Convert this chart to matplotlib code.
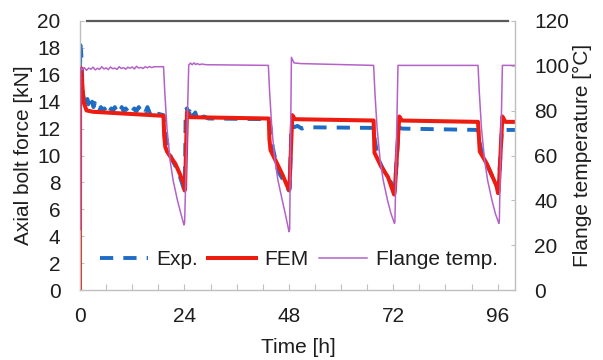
import matplotlib
matplotlib.use('Agg')
import matplotlib.pyplot as plt

plt.rcParams['font.family'] = ['Liberation Sans', 'DejaVu Sans']

# ---------------- data ----------------
exp_t = [0.0, 0.1, 0.25, 0.4, 0.55, 0.7, 0.9, 1.1, 1.3, 1.5, 1.7, 1.9, 2.1, 2.3, 2.5, 2.8, 3.1, 3.4, 3.7,
         4.0, 4.4, 4.8, 5.2, 5.6, 6.0, 6.4, 6.8, 7.2, 7.6, 8.0, 8.4, 8.8, 9.2, 9.6, 10.0, 10.5, 11.0, 11.5,
         12.0, 12.5, 13.0, 13.5, 14.0, 14.5, 15.0, 15.5, 16.0, 16.5, 17.0, 18.0, 19.2,
         19.5, 19.8, 20.4, 21.0, 21.8, 22.6, 23.3, 23.9, 24.1, 24.3, 24.6, 24.9, 25.2, 25.5, 25.8, 26.1,
         26.5, 26.9, 27.3, 27.8, 28.5, 29.5, 43.4,
         43.8, 44.3, 45.0, 45.6, 46.5, 47.3, 48.0, 48.2, 48.6, 49.2, 50.0, 51.0, 52.0, 67.5,
         67.8, 68.5, 69.5, 70.5, 71.5, 72.2, 72.4, 73.3, 74.0, 91.5,
         91.9, 92.4, 93.2, 94.0, 95.0, 96.0, 96.2, 97.0, 98.0, 100.0]
exp_v = [16.4, 18.2, 17.8, 16.8, 15.2, 14.6, 14.2, 14.0, 14.4, 13.9, 14.2, 13.8, 14.1, 14.3, 13.8, 14.0, 13.6, 13.9, 13.5,
         13.6, 13.3, 13.6, 13.4, 13.5, 13.3, 13.6, 13.3, 13.5, 13.3, 13.6, 13.3, 13.5, 13.3, 13.6, 13.3, 13.5, 13.3, 13.6,
         13.3, 13.5, 13.3, 13.6, 13.3, 13.5, 13.2, 13.6, 13.2, 13.4, 13.1, 13.1, 13.0,
         12.0, 11.3, 10.4, 9.8, 9.3, 8.8, 8.1, 7.5, 7.6, 13.4, 13.5, 13.0, 13.3, 12.9, 13.2, 12.9,
         13.2, 12.8, 13.1, 12.8, 12.9, 12.75, 12.7,
         12.1, 10.6, 9.6, 8.8, 8.3, 7.9, 7.4, 7.5, 12.3, 12.1, 12.2, 12.0, 12.1, 12.05,
         11.1, 9.8, 9.1, 8.5, 8.0, 7.5, 7.6, 12.1, 12.0, 11.9,
         10.9, 10.2, 9.5, 9.0, 8.3, 7.5, 7.5, 12.0, 11.9, 11.9]

fem_t = [0.0, 0.02, 0.3, 0.8, 1.5, 3.0, 19.2, 19.35, 19.6, 20.0, 20.8, 21.9, 23.0, 23.85, 24.05, 24.15, 24.6, 25.2,
         43.4, 43.55, 43.8, 45.0, 46.5, 48.0, 48.15, 48.8, 49.4,
         67.5, 67.7, 69.2, 70.8, 72.2, 72.35, 73.4, 74.0,
         91.5, 91.9, 93.5, 95.8, 96.1, 96.25, 97.1, 97.8, 100.0]
fem_v = [0.0, 16.6, 16.4, 14.0, 13.35, 13.25, 12.95, 11.5, 10.65, 10.3, 9.9, 9.4, 8.6, 7.9, 7.4, 7.6, 13.25, 12.85,
         12.75, 11.2, 10.4, 9.6, 8.6, 7.45, 7.6, 13.0, 12.7,
         12.6, 10.2, 9.2, 8.4, 7.1, 7.3, 12.9, 12.6,
         12.5, 10.3, 9.4, 7.7, 7.2, 7.4, 12.9, 12.5, 12.5]

temp_t = [0.0, 0.05, 0.5, 1.0, 1.5, 2.0, 2.5, 3.0, 3.5, 4.0, 4.5, 5.0, 5.5, 6.0, 6.5, 7.0, 7.5, 8.0, 8.5, 9.0,
          9.5, 10.0, 10.5, 11.0, 11.5, 12.0, 12.5, 13.0, 13.5, 14.0, 14.5, 15.0, 15.5, 16.0, 16.5, 17.0, 18.0, 19.2,
          19.5, 20.0, 20.7, 21.4, 22.4, 23.2, 23.9, 24.05, 25.0, 25.4, 25.8, 26.2, 26.6, 27.0, 27.5, 28.0, 29.0, 43.3,
          43.6, 44.1, 44.8, 45.5, 46.5, 47.3, 48.05, 48.2, 48.6, 49.2, 50.8, 67.5,
          67.8, 68.3, 69.0, 69.7, 70.7, 71.5, 72.3, 72.4, 73.1, 91.5,
          91.8, 92.3, 93.0, 93.7, 94.7, 95.5, 96.3, 96.4, 97.1, 100.0]
temp_v = [27.0, 99.3, 98.3, 99.2, 98.0, 99.0, 98.5, 99.4, 98.2, 98.9, 98.4, 99.6, 98.6, 99.1, 98.3, 99.5, 98.7, 99.0, 98.4, 99.6,
          98.8, 99.2, 98.5, 99.4, 98.9, 99.5, 98.6, 99.8, 99.0, 99.3, 98.8, 99.6, 99.1, 99.7, 99.2, 99.6, 99.6, 99.6,
          88.0, 72.0, 58.0, 49.0, 40.0, 34.0, 29.0, 30.0, 100.4, 101.2, 100.5, 101.3, 100.6, 101.0, 100.5, 100.8, 100.5, 100.2,
          88.0, 72.0, 58.0, 49.0, 40.0, 33.0, 26.0, 27.0, 103.8, 101.3, 101.0, 100.2,
          88.0, 72.0, 58.0, 49.0, 40.0, 34.0, 29.7, 31.0, 100.2, 100.2,
          88.0, 72.0, 58.0, 49.0, 40.0, 34.0, 29.7, 31.0, 100.2, 100.2]

x_ticks = [0, 6, 12, 18, 24, 30, 36, 42, 48, 54, 60, 66, 72, 78, 84, 90, 96]
x_labels = ['0', '', '', '', '24', '', '', '', '48', '', '', '', '72', '', '', '', '96']
y_ticks = [0, 2, 4, 6, 8, 10, 12, 14, 16, 18, 20]
y2_ticks = [0, 20, 40, 60, 80, 100, 120]

# ---------------- style ----------------
BLUE = '#1f6cc4'
RED = '#ec1c10'
PURPLE = '#b462c8'
SPINE = '#bfbfbf'
TXT = '#1e1e1e'
FS = 15

fig = plt.figure(figsize=(6.03, 3.6), dpi=100)
ax = fig.add_axes([80 / 603, 70 / 360, 435 / 603, 269 / 360])
ax2 = ax.twinx()

l1, = ax.plot(exp_t, exp_v, color=BLUE, lw=2.8, dashes=(3.4, 2.6), label='Exp.')
l2, = ax.plot(fem_t, fem_v, color=RED, lw=2.9, label='FEM', solid_joinstyle='round')
l3, = ax2.plot(temp_t, temp_v, color=PURPLE, lw=1.1, label='Flange temp.')

ax.set_xlim(0, 100)
ax.set_ylim(0, 20)
ax2.set_ylim(0, 120)

ax.axhline(20, xmin=0.017, xmax=0.983, color='#5a5a5a', lw=1.6, clip_on=False, zorder=5)

ax.set_xticks(x_ticks)
ax.set_xticklabels(x_labels)
ax.set_yticks(y_ticks)
ax2.set_yticks(y2_ticks)

for a in (ax, ax2):
    for s in a.spines.values():
        s.set_color(SPINE)
        s.set_linewidth(1.0)
    a.spines['top'].set_visible(False)
ax.spines['right'].set_visible(False)
ax2.spines['left'].set_visible(False)
ax2.spines['bottom'].set_visible(False)

ax.tick_params(axis='x', direction='in', length=4, color=SPINE, pad=12, labelsize=FS, labelcolor=TXT)
ax.tick_params(axis='y', direction='in', length=3, color=SPINE, pad=14, labelsize=FS, labelcolor=TXT)
ax2.tick_params(axis='y', direction='in', length=3, color=SPINE, pad=14, labelsize=FS, labelcolor=TXT)

ax.set_xlabel('Time [h]', fontsize=FS, color=TXT)
ax.set_ylabel('Axial bolt force [kN]', fontsize=FS, color=TXT)
ax2.set_ylabel('Flange temperature [°C]', fontsize=FS, color=TXT)
ax.xaxis.set_label_coords(0.503, -0.178)
ax.yaxis.set_label_coords(-0.108, 0.5)
ax2.yaxis.set_label_coords(1.133, 0.5)

ax2.legend([l1, l2, l3], ['Exp.', 'FEM', 'Flange temp.'], loc='center',
           bbox_to_anchor=(0.503, 0.112), ncol=3, frameon=False, fontsize=FS,
           handlelength=2.3, handletextpad=0.4, columnspacing=0.5,
           borderpad=0, borderaxespad=0, labelcolor=TXT)

fig.savefig('out.png', dpi=100)
